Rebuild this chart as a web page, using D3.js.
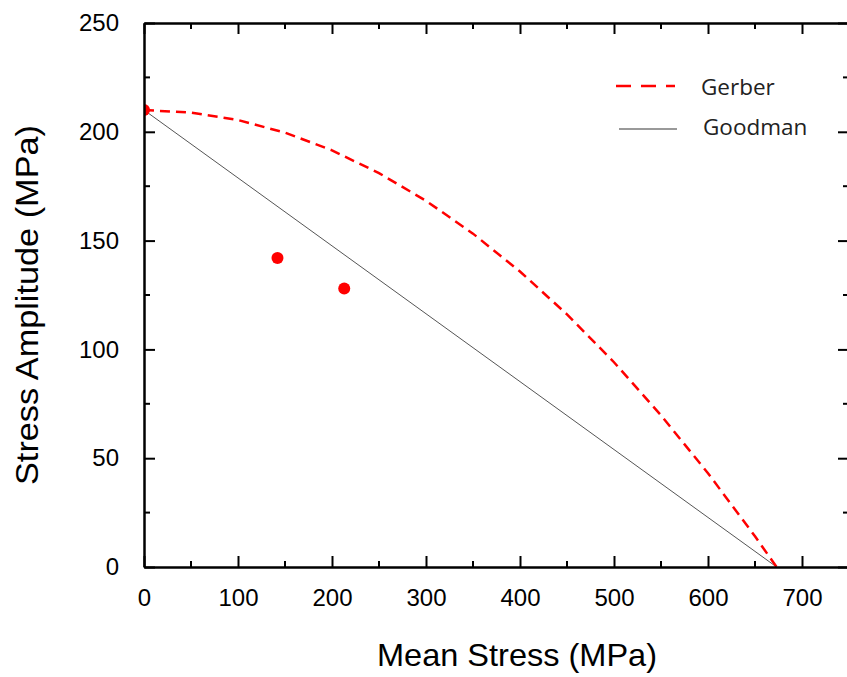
<!DOCTYPE html>
<html><head><meta charset="utf-8">
<script src="https://cdn.jsdelivr.net/npm/d3@7"></script>
<style>body{margin:0;background:#fff}svg{display:block}</style>
</head><body>
<script>
const xTicks = [0,100,200,300,400,500,600,700];
const yTicks = [0,50,100,150,200,250];
const gerberMean = [0,50,100,150,200,250,300,350,400,450,500,550,600,650,673];
const gerberAmp  = [210,208.8,205.4,199.6,191.5,181.0,168.3,153.2,135.8,116.1,94.1,69.7,43.1,14.1,0];
const goodmanMean = [0,673];
const goodmanAmp  = [210,0];
const pointMean = [0,142,213];
const pointAmp  = [210,142,128];
const legendLabels = ["Gerber","Goodman"];

const W=847,H=677;
const m={l:144,t:23,r:-2,b:110};
const svg=d3.select("body").append("svg").attr("width",W).attr("height",H);
const x=d3.scaleLinear().domain([0,750]).range([m.l,W-m.r]);
const y=d3.scaleLinear().domain([0,250]).range([H-m.b,m.t]);
const font="'Liberation Sans', Arial, sans-serif";

svg.append("clipPath").attr("id","clip").append("rect")
  .attr("x",x(0)).attr("y",y(250)).attr("width",x(750)-x(0)).attr("height",y(0)-y(250));

const plot=svg.append("g").attr("clip-path","url(#clip)");
const line=d3.line().x(d=>x(d[0])).y(d=>y(d[1]));
plot.append("path").datum(goodmanMean.map((v,i)=>[v,goodmanAmp[i]]))
  .attr("d",line).attr("fill","none").attr("stroke","#555").attr("stroke-width",1);
plot.append("path").datum(gerberMean.map((v,i)=>[v,gerberAmp[i]]))
  .attr("d",line).attr("fill","none").attr("stroke","#ff0000").attr("stroke-width",2.5)
  .attr("stroke-dasharray","10,6");
plot.selectAll("circle").data(pointMean.map((v,i)=>[v,pointAmp[i]])).enter().append("circle")
  .attr("cx",d=>x(d[0])).attr("cy",d=>y(d[1])).attr("r",6).attr("fill","#ff0000");

// axes
const minorX=d3.range(50,750,100), minorY=d3.range(25,250,50);
function ax(g){g.select(".domain").attr("stroke","#000").attr("stroke-width",2.5);g.selectAll(".tick line").attr("stroke","#000").attr("stroke-width",2);}
const xb=svg.append("g").attr("transform",`translate(0,${y(0)})`)
  .call(d3.axisBottom(x).tickValues(xTicks).tickSizeInner(-11).tickSizeOuter(0).tickPadding(22));
ax(xb);
xb.selectAll("text").attr("font-family",font).attr("font-size",24).attr("fill","#000");
const xt=svg.append("g").attr("transform",`translate(0,${y(250)})`)
  .call(d3.axisTop(x).tickValues(xTicks).tickSizeInner(-11).tickSizeOuter(0).tickFormat(""));
ax(xt);
const yl=svg.append("g").attr("transform",`translate(${x(0)},0)`)
  .call(d3.axisLeft(y).tickValues(yTicks).tickSizeInner(-11).tickSizeOuter(0).tickPadding(25));
ax(yl);
yl.selectAll("text").attr("font-family",font).attr("font-size",24).attr("fill","#000");
const yr=svg.append("g").attr("transform",`translate(${x(750)},0)`)
  .call(d3.axisRight(y).tickValues(yTicks).tickSizeInner(-11).tickSizeOuter(0).tickFormat(""));
ax(yr);
// minor ticks
svg.append("g").selectAll("line").data(minorX).enter().append("line")
  .attr("x1",d=>x(d)).attr("x2",d=>x(d)).attr("y1",y(0)).attr("y2",y(0)-6).attr("stroke","#000").attr("stroke-width",2);
svg.append("g").selectAll("line").data(minorX).enter().append("line")
  .attr("x1",d=>x(d)).attr("x2",d=>x(d)).attr("y1",y(250)).attr("y2",y(250)+6).attr("stroke","#000").attr("stroke-width",2);
svg.append("g").selectAll("line").data(minorY).enter().append("line")
  .attr("x1",x(0)).attr("x2",x(0)+6).attr("y1",d=>y(d)).attr("y2",d=>y(d)).attr("stroke","#000").attr("stroke-width",2);
svg.append("g").selectAll("line").data(minorY).enter().append("line")
  .attr("x1",x(750)).attr("x2",x(750)-6).attr("y1",d=>y(d)).attr("y2",d=>y(d)).attr("stroke","#000").attr("stroke-width",2);

// titles
svg.append("text").attr("x",517).attr("y",666).attr("text-anchor","middle")
  .attr("font-family",font).attr("font-size",31.5).attr("textLength",280).attr("lengthAdjust","spacingAndGlyphs").text("Mean Stress (MPa)");
svg.append("text").attr("transform","translate(38,305) rotate(-90)").attr("text-anchor","middle")
  .attr("font-family",font).attr("font-size",32).attr("textLength",360).attr("lengthAdjust","spacingAndGlyphs").text("Stress Amplitude (MPa)");

// legend
const lf="'Open Sans','Noto Sans',sans-serif";
const lg=svg.append("g");
lg.append("line").attr("x1",616).attr("x2",675).attr("y1",86).attr("y2",86)
  .attr("stroke","#ff0000").attr("stroke-width",2.5).attr("stroke-dasharray","15,10");
lg.append("line").attr("x1",619).attr("x2",677).attr("y1",129).attr("y2",129)
  .attr("stroke","#777").attr("stroke-width",1.5);
lg.append("text").attr("x",701).attr("y",95).attr("font-family",lf).attr("font-size",22.5).attr("fill","#222").text(legendLabels[0]);
lg.append("text").attr("x",703).attr("y",135).attr("font-family",lf).attr("font-size",22.5).attr("fill","#222").text(legendLabels[1]);
</script>
</body></html>
